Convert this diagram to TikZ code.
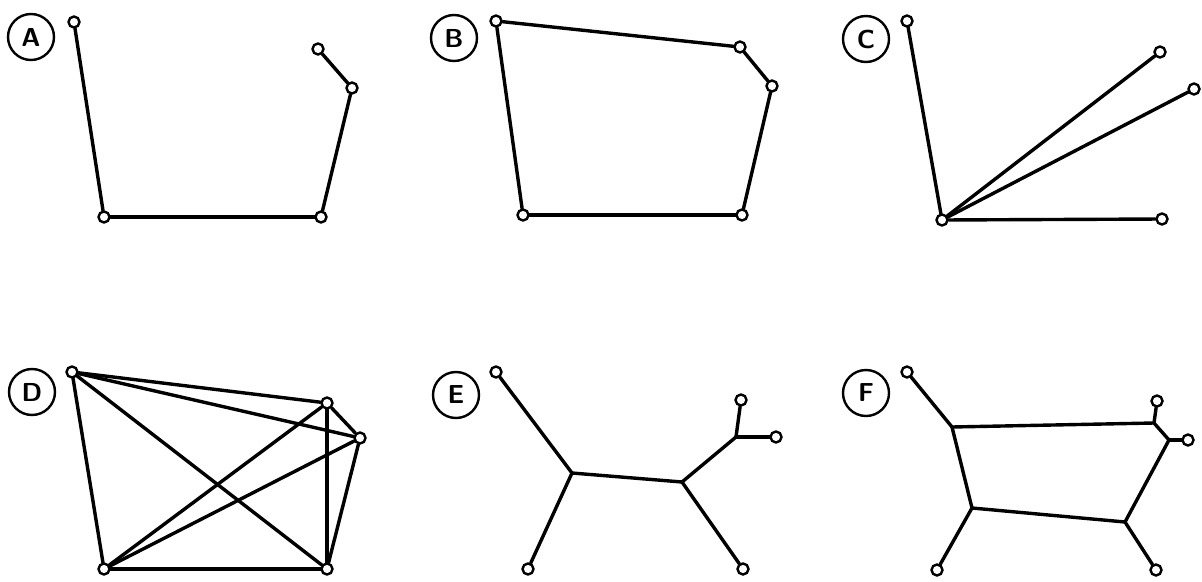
\documentclass[tikz,border=0pt]{standalone}
\usepackage{tikz}

\begin{document}
\begin{tikzpicture}[
      x=1pt, y=-1pt,
      vtx/.style={circle, draw, fill=white, line width=2.4pt, inner sep=0pt,
                  minimum size=11pt},
      tag/.style={circle, draw, line width=2.4pt, inner sep=0pt, minimum size=46pt,
                  font=\fontsize{26}{30}\selectfont\sffamily\bfseries},
      edge/.style={line width=3.4pt, line cap=round, line join=round}
    ]
    \useasboundingbox[fill=white] (0,0) rectangle (1202,581);

    % A: open chain
    \node[tag] (tagA) at (31,37) {A};
    \node[vtx] (a1) at (74,22) {};
    \node[vtx] (a2) at (104,217) {};
    \node[vtx] (a3) at (321,217) {};
    \node[vtx] (a4) at (352,88) {};
    \node[vtx] (a5) at (318,49) {};
    \draw[edge] (a1) -- (a2);
    \draw[edge] (a2) -- (a3);
    \draw[edge] (a3) -- (a4);
    \draw[edge] (a4) -- (a5);

    % B: closed ring
    \node[tag] (tagB) at (454,38) {B};
    \node[vtx] (b1) at (496,21) {};
    \node[vtx] (b2) at (740,47) {};
    \node[vtx] (b3) at (772,86) {};
    \node[vtx] (b4) at (742,215) {};
    \node[vtx] (b5) at (523,215) {};
    \draw[edge] (b1) -- (b2);
    \draw[edge] (b2) -- (b3);
    \draw[edge] (b3) -- (b4);
    \draw[edge] (b4) -- (b5);
    \draw[edge] (b5) -- (b1);

    % C: star
    \node[tag] (tagC) at (866,39) {C};
    \node[vtx] (c0) at (942,220) {};
    \node[vtx] (c1) at (907,21) {};
    \node[vtx] (c2) at (1160,52) {};
    \node[vtx] (c3) at (1194,89) {};
    \node[vtx] (c4) at (1162,219) {};
    \draw[edge] (c0) -- (c1);
    \draw[edge] (c0) -- (c2);
    \draw[edge] (c0) -- (c3);
    \draw[edge] (c0) -- (c4);

    % D: every pair joined
    \node[tag] (tagD) at (32,392) {D};
    \node[vtx] (d1) at (72,372) {};
    \node[vtx] (d2) at (327,403) {};
    \node[vtx] (d3) at (360,438) {};
    \node[vtx] (d4) at (327,569) {};
    \node[vtx] (d5) at (104,569) {};
    \draw[edge] (d1) -- (d2);
    \draw[edge] (d1) -- (d3);
    \draw[edge] (d1) -- (d4);
    \draw[edge] (d1) -- (d5);
    \draw[edge] (d2) -- (d3);
    \draw[edge] (d2) -- (d4);
    \draw[edge] (d2) -- (d5);
    \draw[edge] (d3) -- (d4);
    \draw[edge] (d3) -- (d5);
    \draw[edge] (d4) -- (d5);

    % E: tree with hidden junctions
    \node[tag] (tagE) at (456,395) {E};
    \node[vtx] (e1) at (496,372) {};
    \node[vtx] (e2) at (528,569) {};
    \node[vtx] (e3) at (743,569) {};
    \node[vtx] (e4) at (741,400) {};
    \node[vtx] (e5) at (776,437) {};
    \coordinate (ej1) at (572,473);
    \coordinate (ej2) at (682,482);
    \coordinate (ej3) at (736,437);
    \draw[edge] (e1) -- (ej1);
    \draw[edge] (ej1) -- (e2);
    \draw[edge] (ej1) -- (ej2);
    \draw[edge] (ej2) -- (e3);
    \draw[edge] (ej2) -- (ej3);
    \draw[edge] (ej3) -- (e4);
    \draw[edge] (ej3) -- (e5);

    % F: tree with a loop
    \node[tag] (tagF) at (866,393) {F};
    \node[vtx] (f1) at (907,372) {};
    \node[vtx] (f2) at (937,570) {};
    \node[vtx] (f3) at (1156,570) {};
    \node[vtx] (f4) at (1157,401) {};
    \node[vtx] (f5) at (1188,440) {};
    \coordinate (fj1) at (952,427);
    \coordinate (fj2) at (972,508);
    \coordinate (fj3) at (1125,522);
    \coordinate (fj4) at (1154,423);
    \coordinate (fj5) at (1169,440);
    \draw[edge] (f1) -- (fj1);
    \draw[edge] (fj1) -- (fj2);
    \draw[edge] (fj2) -- (f2);
    \draw[edge] (fj2) -- (fj3);
    \draw[edge] (fj3) -- (f3);
    \draw[edge] (fj1) -- (fj4);
    \draw[edge] (fj4) -- (f4);
    \draw[edge] (fj4) -- (fj5);
    \draw[edge] (fj5) -- (f5);
    \draw[edge] (fj5) -- (fj3);
  \end{tikzpicture}
\end{document}
